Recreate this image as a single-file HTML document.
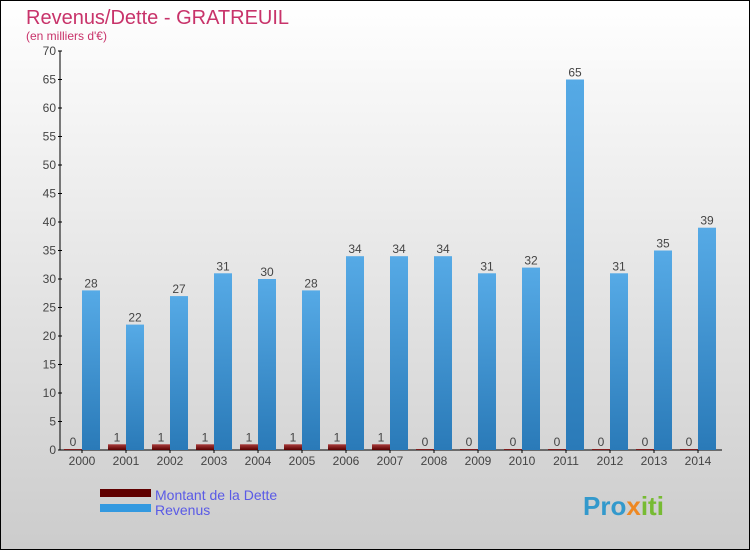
<!DOCTYPE html>
<html><head><meta charset="utf-8"><style>
html,body{margin:0;padding:0;}
body{width:750px;height:550px;overflow:hidden;font-family:"Liberation Sans",sans-serif;}
</style></head><body>
<svg id="chart" width="750" height="550" xmlns="http://www.w3.org/2000/svg" font-family="Liberation Sans, sans-serif">
<defs>
<linearGradient id="bg" x1="0" y1="0" x2="0" y2="1"><stop offset="0" stop-color="#ffffff"/><stop offset="1" stop-color="#cccccc"/></linearGradient>
<linearGradient id="rev" x1="0" y1="0" x2="0" y2="1"><stop offset="0" stop-color="#56aae6"/><stop offset="1" stop-color="#2a7ab8"/></linearGradient>
<linearGradient id="debt" x1="0" y1="0" x2="0" y2="1"><stop offset="0" stop-color="#a83a3a"/><stop offset="1" stop-color="#5a0000"/></linearGradient>
</defs>
<rect x="0.5" y="0.5" width="749" height="549" fill="url(#bg)" stroke="#000"/>
<text x="26" y="24" font-size="20" fill="#c8336a">Revenus/Dette - GRATREUIL</text>
<text x="26" y="40" font-size="12" fill="#c8336a">(en milliers d'€)</text>
<g id="plot"></g>
<g>
<rect x="100" y="489" width="51" height="8" fill="#600000"/>
<text x="155" y="500" font-size="14" fill="#5a5ae6">Montant de la Dette</text>
<rect x="100" y="504" width="51" height="8" fill="#3399e0"/>
<text x="155" y="515" font-size="14" fill="#5a5ae6">Revenus</text>
</g>
<text x="583" y="515" font-size="26" font-weight="bold" fill="#3399cc">Pro<tspan fill="#ee8822">x</tspan><tspan fill="#77bb33">iti</tspan></text>
</svg>
<script>
const years = ["2000","2001","2002","2003","2004","2005","2006","2007","2008","2009","2010","2011","2012","2013","2014"];
const debt = [0,1,1,1,1,1,1,1,0,0,0,0,0,0,0];
const revenus = [28,22,27,31,30,28,34,34,34,31,32,65,31,35,39];
const yTicks = [0,5,10,15,20,25,30,35,40,45,50,55,60,65,70];
const NS = "http://www.w3.org/2000/svg";
const plot = document.getElementById('plot');
const x0 = 60, groupW = 44, yBase = 450, yMax = 70, yTop = 51;
function yScale(v){ return yBase - v*(yBase-yTop)/yMax; }
function xCenter(i){ return x0 + groupW*i + 22; }
function mk(tag, attrs){ const e=document.createElementNS(NS,tag); for(const k in attrs) e.setAttribute(k,attrs[k]); plot.appendChild(e); return e; }
// axes
let ax = mk('line',{x1:x0,y1:yTop,x2:x0,y2:yBase,stroke:'#000'});


let bx = mk('line',{x1:x0,y1:yBase,x2:722,y2:yBase,stroke:'#000'});


yTicks.forEach(t=>{
  const y=yScale(t);
  const tk=mk('line',{x1:x0-2,y1:y,x2:x0+2,y2:y,stroke:'#000'});
  
  
  const tx=mk('text',{x:x0-4,y:y+4,'font-size':12,'text-anchor':'end',fill:'#444'});
  tx.textContent=t;
  
  
});
years.forEach((yr,i)=>{
  const c=xCenter(i);
  const tk=mk('line',{x1:c,y1:yBase,x2:c,y2:yBase+3,stroke:'#000'});
  
  
  const lab=mk('text',{x:c,y:yBase+15,'font-size':12,'text-anchor':'middle',fill:'#444'});
  lab.textContent=yr;
  
  
  // debt
  const dv=debt[i]; const dy=yScale(dv); const dh=Math.max(yBase-dy,1);
  const db=mk('rect',{x:c-18,y:yBase-dh,width:18,height:dh,fill:'url(#debt)'});
  
  
  const dl=mk('text',{x:c-9,y:yBase-dh-3,'font-size':12,'text-anchor':'middle',fill:'#444'});
  dl.textContent=dv;
  
  
  // revenus
  const rv=revenus[i]; const ry=yScale(rv);
  const rb=mk('rect',{x:c,y:ry,width:18,height:yBase-ry,fill:'url(#rev)'});
  
  
  const rl=mk('text',{x:c+9,y:ry-3,'font-size':12,'text-anchor':'middle',fill:'#444'});
  rl.textContent=rv;
  
  
});
</script>
</body></html>
